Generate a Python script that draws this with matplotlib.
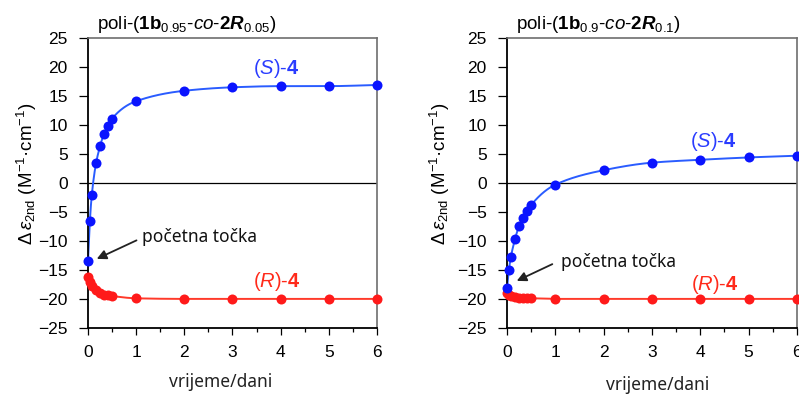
import numpy as np
import matplotlib
matplotlib.use("Agg")
import matplotlib.pyplot as plt
from matplotlib.ticker import MultipleLocator

plt.rcParams['font.family'] = ['Liberation Sans', 'DejaVu Sans']
plt.rcParams['mathtext.fontset'] = 'custom'
plt.rcParams['mathtext.rm'] = 'Liberation Sans'
plt.rcParams['mathtext.it'] = 'Liberation Sans:italic'
plt.rcParams['mathtext.bf'] = 'Liberation Sans:bold'
try:
    plt.rcParams['mathtext.bfit'] = 'Liberation Sans:bold:italic'
except KeyError:
    pass

# ---- data ----
t = [0, 0.04, 0.08, 0.17, 0.25, 0.33, 0.42, 0.5, 1, 2, 3, 4, 5, 6]
s1 = [-13.5, -6.5, -2.0, 3.5, 6.3, 8.4, 9.8, 11.1, 14.1, 15.9, 16.5, 16.7, 16.7, 16.9]
r1 = [-16.2, -17.0, -17.8, -18.5, -19.0, -19.3, -19.4, -19.5, -19.9, -20.0, -20.0, -20.0, -20.0, -20.0]
s2 = [-18.2, -15.0, -12.8, -9.6, -7.4, -6.0, -4.9, -3.8, -0.3, 2.2, 3.5, 4.0, 4.4, 4.7]
r2 = [-19.0, -19.3, -19.5, -19.7, -19.8, -19.9, -19.9, -19.9, -20.0, -20.0, -20.0, -20.0, -20.0, -20.0]

titles = [r"poli-($\mathbf{1b}_{\mathrm{0.95}}$-$\mathit{co}$-$\mathbf{2}\mathbfit{R}_{\mathrm{0.05}}$)",
          r"poli-($\mathbf{1b}_{\mathrm{0.9}}$-$\mathit{co}$-$\mathbf{2}\mathbfit{R}_{\mathrm{0.1}}$)"]
ylabel = r"$\Delta\,\mathit{\varepsilon}_{\mathrm{2nd}}$ (M$^{\mathrm{-1}}$·cm$^{\mathrm{-1}}$)"
xlabel = "vrijeme/dani"
annot = "početna točka"
s_label = r"($\mathit{S}$)-$\mathbf{4}$"
r_label = r"($\mathit{R}$)-$\mathbf{4}$"


def pchip(x, y, xs):
    x = np.asarray(x, float); y = np.asarray(y, float)
    h = np.diff(x); d = np.diff(y) / h
    n = len(x); m = np.zeros(n)
    for k in range(1, n - 1):
        if d[k - 1] * d[k] > 0:
            w1 = 2 * h[k] + h[k - 1]; w2 = h[k] + 2 * h[k - 1]
            m[k] = (w1 + w2) / (w1 / d[k - 1] + w2 / d[k])
    m[0] = d[0]; m[-1] = d[-1]
    idx = np.clip(np.searchsorted(x, xs) - 1, 0, n - 2)
    hh = h[idx]; tt = (xs - x[idx]) / hh
    h00 = 2 * tt**3 - 3 * tt**2 + 1; h10 = tt**3 - 2 * tt**2 + tt
    h01 = -2 * tt**3 + 3 * tt**2; h11 = tt**3 - tt**2
    return h00 * y[idx] + h10 * hh * m[idx] + h01 * y[idx + 1] + h11 * hh * m[idx + 1]


fig = plt.figure(figsize=(7.99, 3.96), dpi=100)
ax1 = fig.add_axes([0.1101, 0.172, 0.3617, 0.732])
ax2 = fig.add_axes([0.6345, 0.172, 0.3630, 0.732])

blue_m = '#0a14ff'
blue_l = '#2a5cff'
red_m = '#ff1a1a'
red_l = '#ff3a2a'

configs = [
    (ax1, s1, r1, titles[0], (3.9, 19.8), (3.93, -17.0), (0.13, -13.3), (1.06, -9.7), (1.12, -9.3), 382, 27),
    (ax2, s2, r2, titles[1], (4.27, 7.1), (4.29, -17.6), (0.15, -17.1), (0.99, -13.8), (1.12, -13.6), 385, 440),
]

for ax, s, r, title, sl, rl, tip, tail, txt, xly, ylx in configs:
    xs = np.linspace(0, 6, 600)
    ax.plot(xs, pchip(t, s, xs), color=blue_l, lw=1.4, zorder=2)
    ax.plot(xs, pchip(t, r, xs), color=red_l, lw=1.4, zorder=2)
    ax.plot(t, r, 'o', color=red_m, ms=7.2, mec='none', zorder=3, clip_on=False)
    ax.plot(t, s, 'o', color=blue_m, ms=7.2, mec='none', zorder=4, clip_on=False)
    ax.axhline(0, color='black', lw=0.9, zorder=1)
    ax.set_xlim(0, 6)
    ax.set_ylim(-25, 25)
    ax.xaxis.set_major_locator(MultipleLocator(1))
    ax.xaxis.set_minor_locator(MultipleLocator(0.5))
    ax.yaxis.set_major_locator(MultipleLocator(5))
    ax.tick_params(axis='y', which='major', direction='out', length=6.5, width=0.9, pad=8, labelsize=12.5)
    ax.tick_params(axis='x', which='major', direction='out', length=5, width=0.9, pad=7, labelsize=12.5)
    ax.tick_params(axis='x', which='minor', direction='out', length=3, width=0.9)
    for sp in ['left', 'bottom']:
        ax.spines[sp].set_color('black')
        ax.spines[sp].set_linewidth(1.3)
    for sp in ['top', 'right']:
        ax.spines[sp].set_color('#6e6e6e')
        ax.spines[sp].set_linewidth(1.2)
    ax.text(0.03, 1.012, title, transform=ax.transAxes, fontsize=13.5, ha='left', va='bottom')
    ax.text(sl[0], sl[1], s_label, color='#2a3cff', fontsize=14.5, ha='center', va='center')
    ax.text(rl[0], rl[1], r_label, color='#ff2a1a', fontsize=14.5, ha='center', va='center')
    ax.annotate('', xy=tip, xytext=tail,
                arrowprops=dict(arrowstyle='-|>', color='#222222', lw=1.3, mutation_scale=14))
    ax.text(txt[0], txt[1], annot, fontsize=12.5, family=['Noto Sans', 'DejaVu Sans'],
            ha='left', va='center', color='#111111')
    bbox = ax.get_position()
    fig.text((bbox.x0 + bbox.x1) / 2 - (0.015 if ax is ax1 else -0.007), 1 - xly / 396, xlabel,
             fontsize=12.5, family=['Noto Sans', 'DejaVu Sans'], ha='center', va='center', color='#222222')
    fig.text(ylx / 799, 1 - 174 / 396, ylabel, rotation=90, fontsize=13.5,
             ha='center', va='center')

fig.savefig('out.png', dpi=100)
